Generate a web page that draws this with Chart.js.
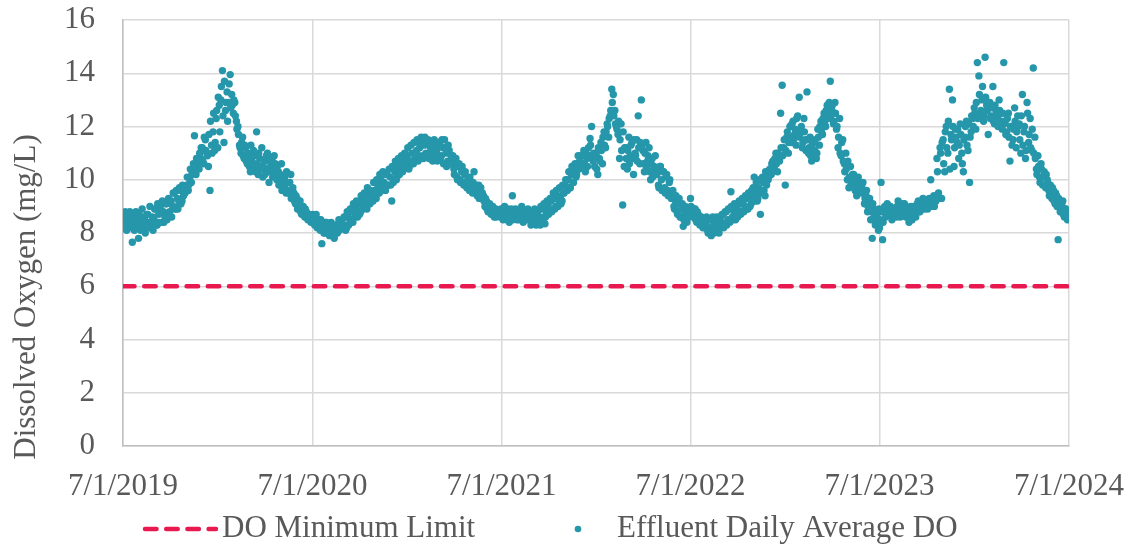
<!DOCTYPE html>
<html>
<head>
<meta charset="utf-8">
<script src="https://cdn.jsdelivr.net/npm/chart.js@4.4.1/dist/chart.umd.min.js"></script>
<style>
  html, body { margin: 0; padding: 0; background: #ffffff; }
  #wrap { width: 1131px; height: 546px; }
</style>
</head>
<body>
<div id="wrap"><canvas id="graficoDO" width="1131" height="546"></canvas></div>
<script>
// eixo x: dias desde 7/1/2019
const tickLabels = ['7/1/2019', '7/1/2020', '7/1/2021', '7/1/2022', '7/1/2023', '7/1/2024'];
const tickDays = [0, 366, 731, 1096, 1461, 1827];
const sampleStep = 3; // uma leitura a cada 3 dias em cada lista

const doMinimumLimit = 6;

// Effluent daily average DO (mg/L), lido do grafico
// lista "a" = dias 0,3,6,... de cada ano; lista "b" = dias 1,4,7,...
const do2019a = [
  8.6, 8.5, 8.7, 8.3, 8.6, 8.4, 7.65, 8.5, 8.3, 8.6,
  7.8, 8.4, 8.6, 8.2, 8.5, 8.3, 8.7, 8.4, 8.2, 8.6,
  8.5, 8.9, 8.3, 8.7, 9.0, 8.4, 8.8, 8.6, 9.1, 8.7,
  8.8, 9.2, 9.0, 9.5, 8.9, 9.3, 9.1, 9.6, 9.2, 9.4,
  9.5, 9.8, 9.6, 10.0, 9.9, 10.3, 11.65, 10.2, 10.6, 10.4,
  10.8, 11.2, 10.6, 11.5, 11.0, 10.5, 9.6, 11.3, 11.8, 11.1,
  12.3, 11.2, 12.8, 13.0, 14.1, 11.4, 12.6, 13.3, 12.9, 13.95,
  13.2, 12.5, 12.9, 12.2, 12.0, 11.3, 11.0, 11.6, 10.8, 11.2,
  10.6, 10.9, 10.3, 10.7, 11.1, 10.4, 11.8, 10.2, 10.8, 10.5,
  10.1, 10.7, 10.4, 11.0, 9.9, 10.5, 10.8, 10.2, 10.6, 10.0,
  10.3, 9.9, 10.6, 9.7, 10.1, 9.5, 9.9, 9.6, 10.2, 9.4,
  9.5, 9.1, 9.3, 8.9, 9.2, 8.7, 9.0, 8.6, 8.8, 8.5,
  8.7, 8.4
];
const do2019b = [
  8.3, 8.8, 8.1, 8.6, 8.8, 8.2, 8.7, 8.1, 8.8, 8.3,
  8.7, 8.1, 8.9, 8.5, 8.0, 8.7, 8.2, 9.0, 8.4, 8.1,
  8.9, 8.3, 9.1, 8.4, 8.8, 9.2, 8.4, 9.1, 8.5, 9.3,
  9.2, 8.6, 9.5, 8.9, 9.6, 8.9, 9.7, 9.1, 9.8, 9.6,
  9.7, 10.1, 9.8, 10.4, 10.2, 10.6, 10.4, 10.8, 10.7, 11.0,
  11.2, 10.7, 11.6, 11.1, 10.9, 11.7, 12.2, 11.0, 12.5, 11.4,
  12.6, 13.1, 11.8, 13.5, 12.4, 13.7, 12.9, 12.2, 13.6, 12.7,
  12.8, 13.0, 12.4, 11.9, 11.7, 11.2, 11.4, 10.9, 11.3, 10.7,
  11.0, 10.5, 11.3, 10.6, 10.9, 10.3, 10.6, 11.0, 10.4, 11.2,
  10.5, 10.2, 10.9, 10.3, 10.7, 10.4, 10.1, 10.9, 10.3, 10.5,
  9.8, 10.2, 9.6, 10.0, 9.8, 10.3, 9.5, 9.9, 9.3, 9.7,
  9.2, 9.4, 8.9, 9.1, 8.8, 9.0, 8.7, 8.9, 8.6, 8.7,
  8.5, 8.6
];
const do2020a = [
  8.7, 8.4, 8.6, 8.2, 8.5, 8.1, 7.6, 8.3, 8.0, 8.4,
  8.2, 7.9, 8.4, 8.1, 7.8, 8.3, 8.0, 8.5, 8.2, 8.4,
  8.3, 8.6, 8.2, 8.7, 8.5, 8.9, 8.4, 8.8, 9.0, 8.6,
  9.1, 8.8, 9.3, 9.0, 9.2, 8.9, 9.4, 9.1, 9.5, 9.2,
  9.6, 9.3, 9.8, 9.5, 10.0, 9.7, 9.9, 9.6, 10.2, 9.8,
  10.1, 9.2, 9.9, 10.3, 10.0, 10.5, 10.2, 10.6, 10.3, 10.8,
  10.5, 10.9, 10.4, 10.7, 11.0, 10.6, 10.8, 11.1, 10.7, 11.2,
  11.6, 10.9, 11.3, 11.0, 11.4, 10.8, 11.2, 11.0, 11.3, 10.9,
  11.1, 10.8, 11.3, 10.9, 11.2, 11.5, 11.0, 10.7, 11.1, 10.6,
  10.8, 10.4, 10.6, 10.1, 10.5, 10.0, 10.3, 9.9, 10.2, 9.8,
  10.0, 9.6, 9.9, 9.5, 10.3, 9.7, 9.4, 9.8, 9.5, 9.3,
  9.4, 9.0, 9.2, 8.8, 9.1, 8.7, 9.0, 8.6, 8.9, 8.7,
  8.8, 8.6
];
const do2020b = [
  8.5, 8.3, 8.7, 8.4, 8.2, 8.5, 8.3, 8.0, 8.4, 8.1,
  8.0, 8.3, 8.1, 7.9, 8.2, 8.0, 8.3, 8.1, 8.4, 8.2,
  8.6, 8.1, 8.8, 8.3, 8.9, 8.5, 9.1, 8.6, 9.2, 8.8,
  8.7, 9.4, 8.9, 9.5, 9.0, 9.7, 9.1, 9.6, 9.2, 9.9,
  9.3, 10.0, 9.5, 10.2, 9.6, 10.3, 9.7, 10.2, 9.8, 10.4,
  9.8, 10.5, 10.0, 10.7, 10.1, 10.8, 10.3, 10.9, 10.4, 11.0,
  10.6, 11.2, 10.5, 11.3, 10.7, 11.4, 10.8, 11.5, 10.9, 11.3,
  11.4, 10.8, 11.6, 10.9, 11.5, 11.0, 11.3, 10.7, 11.5, 11.1,
  10.7, 11.4, 10.8, 11.5, 10.6, 11.2, 10.5, 11.3, 10.6, 10.9,
  10.9, 10.2, 10.8, 10.0, 10.6, 9.9, 10.5, 9.8, 10.3, 9.7,
  9.8, 10.1, 9.7, 9.9, 9.6, 9.8, 9.6, 9.3, 9.7, 9.5,
  9.2, 9.3, 8.9, 9.0, 8.8, 9.0, 8.7, 8.8, 8.6, 8.8,
  8.7, 8.9
];
const do2021a = [
  8.8, 8.5, 9.0, 8.6, 8.9, 8.4, 8.7, 9.4, 8.6, 8.9,
  8.5, 8.8, 8.6, 9.0, 8.4, 8.7, 8.5, 8.9, 8.6, 8.3,
  8.7, 8.4, 8.8, 8.5, 8.6, 8.3, 8.9, 8.6, 8.35, 8.8,
  9.0, 8.8, 9.2, 8.9, 9.3, 9.0, 9.4, 9.1, 9.3, 9.2,
  9.5, 9.8, 9.6, 10.0, 9.7, 10.2, 9.9, 10.4, 10.1, 10.6,
  10.4, 10.9, 10.6, 11.1, 10.3, 10.8, 11.2, 11.55, 12.0, 10.7,
  10.5, 11.0, 10.2, 10.8, 11.4, 10.6, 11.8, 11.2, 12.1, 11.6,
  12.4, 13.4, 13.2, 12.6, 12.0, 11.7, 10.8, 12.1, 9.05, 10.5,
  11.2, 10.4, 11.6, 10.9, 11.4, 10.2, 11.0, 11.5, 12.4, 10.6,
  13.0, 11.1, 10.3, 11.4, 10.7, 11.2, 10.0, 10.8, 10.4, 10.9,
  10.2, 9.8, 10.5, 10.0, 10.3, 9.7, 10.1, 9.6, 9.9, 9.4,
  9.4, 9.0, 9.2, 8.8, 9.1, 8.6, 8.9, 8.25, 8.7, 8.9,
  8.8, 8.6
];
const do2021b = [
  8.6, 8.9, 8.7, 8.5, 8.8, 8.6, 8.9, 8.5, 8.8, 8.7,
  8.7, 8.5, 8.9, 8.6, 8.8, 8.5, 8.7, 8.6, 8.8, 8.5,
  8.4, 8.9, 8.3, 8.8, 8.5, 9.0, 8.4, 9.1, 8.6, 9.2,
  8.7, 9.3, 8.8, 9.5, 8.9, 9.6, 9.0, 9.7, 9.1, 9.8,
  9.5, 10.0, 9.6, 10.3, 9.7, 10.5, 9.9, 10.6, 10.2, 10.9,
  10.7, 10.5, 10.9, 10.6, 11.0, 10.5, 10.9, 11.3, 10.8, 11.0,
  10.9, 10.4, 11.2, 10.7, 11.1, 11.6, 11.3, 11.8, 12.0, 12.3,
  12.6, 12.9, 12.4, 12.1, 11.9, 12.2, 11.5, 11.1, 11.8, 11.2,
  10.8, 11.1, 10.6, 11.3, 10.8, 11.5, 10.9, 10.7, 11.2, 11.4,
  11.3, 10.6, 11.0, 10.5, 10.9, 10.3, 10.6, 10.1, 10.5, 10.2,
  10.4, 9.7, 10.5, 9.6, 10.3, 9.5, 10.2, 9.4, 10.0, 9.3,
  9.6, 8.9, 9.4, 8.7, 9.3, 8.6, 9.1, 8.5, 9.0, 8.4,
  8.9, 8.7
];
const do2022a = [
  9.3, 8.8, 8.6, 8.9, 8.4, 8.7, 8.3, 8.6, 8.2, 8.5,
  8.3, 8.1, 8.5, 8.2, 8.0, 8.4, 8.2, 8.6, 8.1, 8.3,
  8.4, 8.7, 8.3, 8.8, 8.5, 8.9, 9.55, 8.6, 8.8, 8.5,
  8.9, 8.7, 9.1, 8.8, 9.2, 9.0, 9.3, 8.9, 9.4, 9.1,
  9.3, 10.1, 9.5, 9.2, 9.7, 8.7, 9.6, 9.9, 9.4, 9.8,
  10.0, 10.4, 10.2, 10.7, 10.5, 11.0, 10.3, 10.8, 12.5, 13.55,
  11.2, 9.8, 11.6, 11.0, 12.0, 11.4, 12.2, 11.7, 11.3, 12.4,
  13.1, 11.8, 11.2, 12.3, 11.5, 13.3, 11.0, 11.6, 10.7, 11.4,
  11.1, 10.8, 11.9, 11.3, 12.2, 11.7, 12.5, 12.0, 12.8, 12.3,
  13.7, 12.6, 12.1, 12.9, 11.9, 11.2, 12.3, 10.9, 11.5, 10.6,
  11.0, 10.0, 9.7, 10.5, 9.9, 10.2, 9.6, 9.4, 10.1, 9.8,
  9.5, 9.9, 9.1, 9.4, 8.8, 9.2, 8.5, 7.8, 8.9, 8.3,
  8.6, 8.1
];
const do2022b = [
  9.0, 8.7, 8.9, 8.5, 8.8, 8.4, 8.6, 8.3, 8.5, 8.2,
  8.6, 8.0, 8.5, 7.9, 8.6, 8.0, 8.3, 8.5, 8.0, 8.6,
  8.7, 8.2, 8.8, 8.3, 8.9, 8.4, 9.0, 8.5, 9.1, 8.7,
  8.6, 9.2, 8.7, 9.3, 8.8, 9.4, 8.9, 9.5, 9.0, 9.6,
  9.7, 9.2, 9.9, 9.3, 10.0, 9.5, 10.1, 9.6, 10.3, 10.0,
  10.1, 10.3, 10.6, 10.4, 10.8, 10.6, 11.0, 10.7, 11.2, 10.9,
  11.5, 11.1, 11.8, 11.4, 11.6, 12.1, 11.5, 11.9, 12.3, 11.8,
  11.6, 12.0, 11.4, 11.8, 11.1, 11.5, 11.2, 10.9, 11.3, 11.0,
  11.5, 11.0, 11.6, 12.0, 11.8, 12.3, 12.1, 12.6, 12.4, 12.9,
  12.4, 12.8, 12.2, 12.5, 12.0, 11.6, 11.0, 11.4, 10.7, 10.3,
  10.4, 10.7, 10.1, 9.8, 10.2, 9.9, 10.0, 9.7, 9.9, 9.6,
  9.8, 9.6, 9.3, 9.6, 9.0, 9.3, 8.8, 9.1, 8.6, 8.8,
  8.4, 8.9
];
const do2023a = [
  8.2, 9.9, 7.75, 8.9, 8.6, 9.1, 8.7, 9.0, 8.5, 8.8,
  8.9, 8.6, 9.2, 8.8, 9.0, 8.7, 9.1, 8.6, 8.9, 8.4,
  8.8, 8.5, 9.0, 8.7, 8.9, 9.2, 8.8, 9.0, 9.3, 8.9,
  9.1, 8.9, 9.3, 10.0, 9.0, 9.4, 9.2, 10.8, 9.5, 11.2,
  9.3, 11.5, 10.3, 12.0, 11.0, 13.4, 11.7, 13.0, 10.5, 11.9,
  11.4, 10.8, 12.1, 11.0, 10.3, 11.6, 12.2, 11.1, 9.9, 11.8,
  12.3, 12.7, 11.9, 14.4, 13.9, 12.5, 13.0, 12.2, 14.6, 12.8,
  11.7, 12.9, 12.4, 13.5, 12.1, 12.6, 12.3, 13.0, 12.5, 11.9,
  14.4, 12.2, 11.8, 12.5, 10.7, 12.0, 11.5, 12.7, 11.2, 12.4,
  12.1, 11.0, 13.2, 11.8, 10.8, 12.9, 11.4, 12.3, 11.1, 14.2,
  11.6, 10.4, 10.9, 10.1, 10.6, 9.8, 10.3, 9.7, 10.0, 9.6,
  9.8, 9.3, 9.6, 9.1, 9.4, 7.75, 9.0, 8.8, 9.2, 8.6,
  8.9, 8.5
];
const do2023b = [
  8.5, 8.8, 8.4, 9.0, 8.8, 8.7, 9.0, 8.8, 8.9, 8.7,
  8.7, 9.0, 8.8, 8.6, 8.9, 9.1, 8.8, 9.0, 8.7, 8.9,
  9.0, 8.7, 8.9, 8.6, 9.1, 8.8, 9.1, 8.9, 9.2, 9.0,
  9.2, 9.0, 9.2, 9.1, 9.3, 9.0, 9.2, 10.3, 9.3, 11.0,
  11.4, 10.6, 11.8, 11.2, 12.2, 10.4, 11.5, 12.0, 11.2, 11.6,
  11.9, 11.3, 11.7, 10.6, 11.5, 12.0, 11.3, 12.1, 11.6, 12.4,
  12.0, 12.5, 12.9, 12.3, 13.2, 12.6, 13.5, 12.4, 13.1, 12.6,
  12.9, 12.3, 12.7, 12.2, 12.8, 12.4, 12.0, 12.6, 12.2, 12.5,
  12.1, 11.7, 12.3, 11.6, 12.0, 11.3, 11.9, 12.2, 11.8, 12.0,
  11.5, 12.4, 11.3, 12.0, 11.1, 12.5, 11.7, 11.2, 11.9, 11.0,
  10.8, 10.2, 10.5, 9.9, 10.4, 10.1, 9.8, 10.2, 9.9, 9.4,
  9.5, 9.7, 9.2, 9.5, 9.0, 9.3, 8.8, 9.1, 8.7, 8.9,
  8.7, 8.8
];
const seriesA = [do2019a, do2020a, do2021a, do2022a, do2023a];
const seriesB = [do2019b, do2020b, do2021b, do2022b, do2023b];

// monta os pontos {x: dia, y: valor}
function montarPontos() {
    let pontos = [];
    [seriesA, seriesB].forEach((lista, offset) => {
        lista.forEach((valores, ano) => {
            valores.forEach((v, i) => {
                pontos.push({ x: tickDays[ano] + offset + i * sampleStep, y: v });
            });
        });
    });
    return pontos;
}

const corTexto = '#595959';
const fonteSerif = "'Liberation Serif', 'Times New Roman', serif";
const tituloY = 'Dissolved Oxygen (mg/L)';

// legenda e titulo do eixo y desenhados a mao
const legendaPlugin = {
    id: 'legendaManual',
    afterDraw(chart) {
        const ctx = chart.ctx;
        const ds = chart.data.datasets;
        const y = 529;
        ctx.save();
        ctx.strokeStyle = ds[0].borderColor;
        ctx.lineWidth = ds[0].borderWidth;
        ctx.lineCap = 'round';
        ctx.setLineDash(ds[0].borderDash);
        ctx.beginPath();
        ctx.moveTo(145, y);
        ctx.lineTo(216, y);
        ctx.stroke();
        ctx.setLineDash([]);
        ctx.fillStyle = ds[1].backgroundColor;
        ctx.beginPath();
        ctx.arc(578, y, 3.3, 0, Math.PI * 2);
        ctx.fill();
        ctx.fillStyle = corTexto;
        ctx.font = '31px ' + fonteSerif;
        ctx.textBaseline = 'middle';
        ctx.fillText(ds[0].label, 222, y);
        ctx.fillText(ds[1].label, 617, y);

        // titulo do eixo y
        ctx.translate(27, 297);
        ctx.rotate(-Math.PI / 2);
        ctx.textAlign = 'center';
        ctx.fillText(tituloY, 0, 0);
        ctx.restore();
    }
};

let ctx = document.getElementById('graficoDO').getContext('2d');
new Chart(ctx, {
    type: 'scatter',
    data: {
        datasets: [
            {
                label: 'DO Minimum Limit',
                type: 'line',
                data: [{ x: tickDays[0], y: doMinimumLimit }, { x: tickDays[5], y: doMinimumLimit }],
                borderColor: '#E8194F',
                borderWidth: 4.5,
                borderDash: [11.5, 9.7],
                borderCapStyle: 'round',
                pointRadius: 0,
                fill: false
            },
            {
                label: 'Effluent Daily Average DO',
                data: montarPontos(),
                backgroundColor: '#2697AB',
                borderWidth: 0,
                pointRadius: 3.7,
                pointHoverRadius: 3.7
            }
        ]
    },
    options: {
        responsive: false,
        animation: false,
        layout: { padding: { top: 20, right: 62, bottom: 0, left: 0 } },
        plugins: {
            legend: { display: false },
            tooltip: { enabled: false }
        },
        scales: {
            x: {
                type: 'linear',
                min: tickDays[0],
                max: tickDays[5],
                afterBuildTicks: (scale) => {
                    scale.ticks = tickDays.map(d => ({ value: d }));
                },
                afterFit: (scale) => {
                    scale.height = 100;
                    scale.paddingLeft = 0;
                    scale.paddingRight = 0;
                },
                ticks: {
                    autoSkip: false,
                    maxRotation: 0,
                    padding: 22,
                    color: corTexto,
                    font: { family: fonteSerif, size: 31 },
                    callback: (value) => tickLabels[tickDays.indexOf(value)]
                },
                grid: { color: '#D9D9D9', lineWidth: 1.5, drawTicks: false },
                border: { color: '#BFBFBF', width: 1.5 }
            },
            y: {
                min: 0,
                max: 16,
                afterFit: (scale) => {
                    scale.width = 123;
                    scale.paddingTop = 0;
                    scale.paddingBottom = 0;
                },
                ticks: {
                    stepSize: 2,
                    padding: 28,
                    color: corTexto,
                    font: { family: fonteSerif, size: 31 }
                },
                grid: { color: '#D9D9D9', lineWidth: 1.5, drawTicks: false },
                border: { color: '#BFBFBF', width: 1.5 }
            }
        }
    },
    plugins: [legendaPlugin]
});
</script>
</body>
</html>
